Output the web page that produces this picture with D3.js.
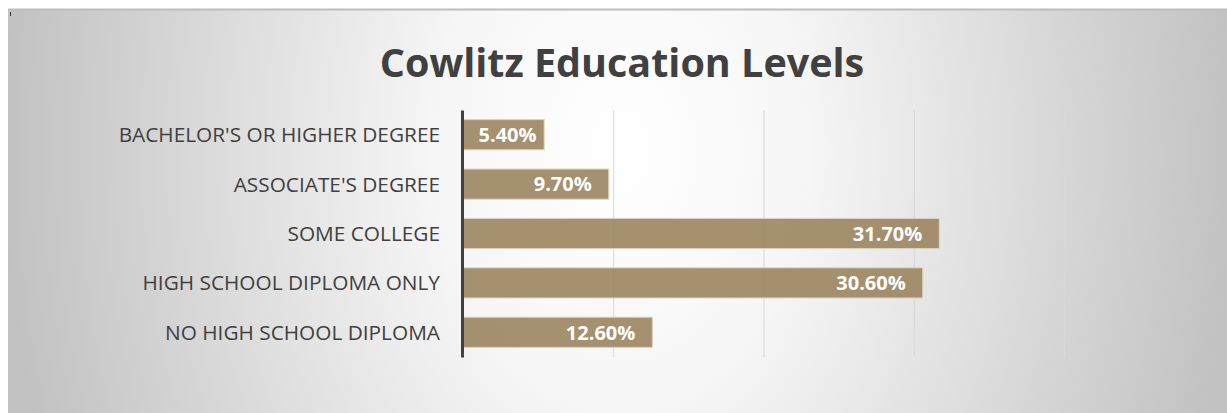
<!DOCTYPE html>
<html>
<head>
<meta charset="utf-8">
<script src="https://cdn.jsdelivr.net/npm/d3@7"></script>
<style>
    body { margin: 0; background: #fff; }
    svg { display: block; }
    .cat-axis text { font-family: "Open Sans", sans-serif; font-size: 20.8px; fill: #404040; }
    .bar-label { font-family: "Open Sans", sans-serif; font-weight: bold; font-size: 20px; fill: #fff; }
    .title { font-family: "Open Sans", sans-serif; font-weight: bold; font-size: 39.5px; fill: #404040; }
</style>
</head>
<body>
<svg id="chart" width="1227" height="413"></svg>
<script>
// data, top to bottom as shown
const categories = [
    "BACHELOR'S OR HIGHER DEGREE",
    "ASSOCIATE'S DEGREE",
    "SOME COLLEGE",
    "HIGH SCHOOL DIPLOMA ONLY",
    "NO HIGH SCHOOL DIPLOMA"
];
const values = [5.4, 9.7, 31.7, 30.6, 12.6];
const xTicks = [0, 10, 20, 30, 40];
const chartTitle = "Cowlitz Education Levels";

const margins = {left: 463, right: 163, top: 110, bottom: 56};
const width = 1227;
const height = 413;

const svg = d3.select("#chart");
const defs = svg.append("defs");

// wide radial background, white in the middle fading to grey at the sides
const bg = defs.append("radialGradient")
    .attr("id", "bg-grad")
    .attr("gradientUnits", "userSpaceOnUse")
    .attr("cx", 0).attr("cy", 0).attr("r", 615)
    .attr("gradientTransform", "translate(620,150) scale(1,1.4)");
bg.append("stop").attr("offset", "0%").attr("stop-color", "#ffffff");
bg.append("stop").attr("offset", "30%").attr("stop-color", "#f6f6f6");
bg.append("stop").attr("offset", "100%").attr("stop-color", "#c2c2c2");

const gridGrad = defs.append("linearGradient")
    .attr("id", "grid-grad")
    .attr("gradientUnits", "userSpaceOnUse")
    .attr("x1", 0).attr("y1", margins.top)
    .attr("x2", 0).attr("y2", height - margins.bottom);
gridGrad.append("stop").attr("offset", "0%").attr("stop-color", "#d8d8d8");
gridGrad.append("stop").attr("offset", "100%").attr("stop-color", "#7c7c7c");

svg.append("rect")
    .attr("x", 8).attr("y", 10)
    .attr("width", width - 8).attr("height", height - 10)
    .attr("fill", "url(#bg-grad)");

// top border
svg.append("line")
    .attr("x1", 8).attr("x2", width)
    .attr("y1", 9.5).attr("y2", 9.5)
    .attr("stroke", "#bdbdbd").attr("stroke-width", 2);

// small mark in the corner
svg.append("line")
    .attr("x1", 10.5).attr("x2", 10.5)
    .attr("y1", 12).attr("y2", 16)
    .attr("stroke", "#333").attr("stroke-width", 1);

svg.append("text")
    .attr("class", "title")
    .attr("x", 622)
    .attr("y", 77)
    .style("text-anchor", "middle")
    .text(chartTitle);

const x = d3.scaleLinear()
    .domain([0, 40])
    .range([margins.left, width - margins.right]);

const y = d3.scaleBand()
    .domain(categories)
    .range([margins.top, height - margins.bottom])
    .paddingInner(0.39)
    .paddingOuter(0.195);

// vertical gridlines
const grid = svg.append("g")
    .attr("class", "grid")
    .attr("transform", `translate(0,${height - margins.bottom})`)
    .call(d3.axisBottom(x)
        .tickValues(xTicks.slice(1))
        .tickSize(-(height - margins.bottom - margins.top))
        .tickFormat(""));
grid.select(".domain").remove();
grid.selectAll("line")
    .attr("stroke", "url(#grid-grad)")
    .attr("stroke-width", 1);

// bars
const data = categories.map((c, i) => ({name: c, value: values[i]}));

svg.append("g")
    .selectAll("rect")
    .data(data)
    .enter()
    .append("rect")
    .attr("x", x(0))
    .attr("y", d => y(d.name))
    .attr("width", d => x(d.value) - x(0))
    .attr("height", y.bandwidth())
    .attr("fill", "#9b8460")
    .attr("fill-opacity", 0.9)
    .attr("stroke", "#ddd3c2")
    .attr("stroke-width", 1);

// value labels sit inside the bar end, centred when the bar is too short
const labels = svg.append("g")
    .selectAll("text")
    .data(data)
    .enter()
    .append("text")
    .attr("class", "bar-label")
    .attr("y", d => y(d.name) + y.bandwidth() / 2)
    .attr("dy", "0.36em")
    .style("text-anchor", "end")
    .text(d => `${d3.format(".2f")(d.value)}%`);

const pad = 17;
labels.each(function (d) {
    const w = this.getComputedTextLength();
    const barW = x(d.value) - x(0);
    let end = x(d.value) - pad;
    if (w + 2 * pad > barW) {
        end = x(0) + barW / 2 + w / 2 + 4;
    }
    d3.select(this).attr("x", end);
});

// category axis
const catAxis = svg.append("g")
    .attr("class", "cat-axis")
    .attr("transform", `translate(${x(0) - 1},0)`)
    .call(d3.axisLeft(y).tickSize(0).tickPadding(22));
catAxis.select(".domain")
    .attr("stroke", "#404040")
    .attr("stroke-width", 3);
catAxis.selectAll("text").attr("dy", "0.36em");
</script>
</body>
</html>
